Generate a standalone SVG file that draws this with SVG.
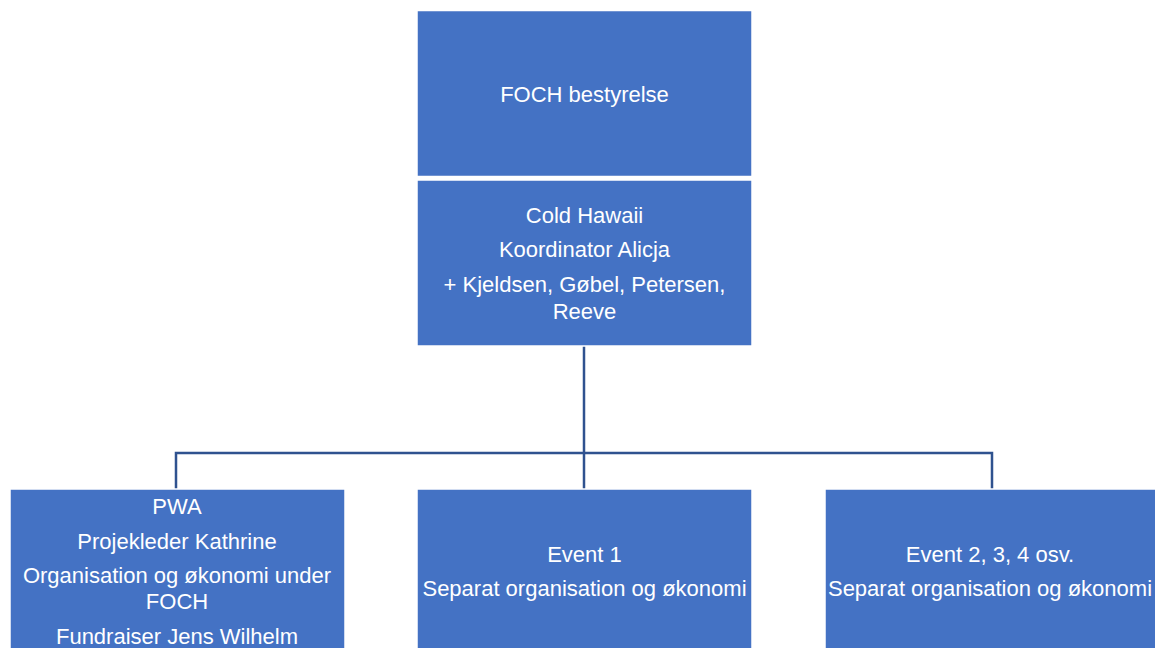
<svg xmlns="http://www.w3.org/2000/svg" width="1155" height="648" viewBox="0 0 1155 648">
<style>
.box{fill:#4472C4;stroke:#FFFFFF;stroke-width:1.5}
.t{font-family:"Liberation Sans",Arial,sans-serif;font-size:22px;fill:#FFFFFF;text-anchor:middle}
.c{fill:none;stroke:#2F528F;stroke-width:2.5}
</style>
<rect x="0" y="0" width="1155" height="648" fill="#FFFFFF"/>
<g id="connectors">
<path class="c" d="M584,346 V453"/>
<path class="c" d="M176,489 V453 H992 V489"/>
<path class="c" d="M584,453 V489"/>
</g>
<g id="node-foch">
<rect class="box" x="417" y="10.5" width="335" height="166"/>
<text class="t" x="584.5" y="102">FOCH bestyrelse</text>
</g>
<g id="node-coldhawaii">
<rect class="box" x="417" y="180" width="335" height="166"/>
<text class="t" x="584.5" y="223">Cold Hawaii</text>
<text class="t" x="584.5" y="257">Koordinator Alicja</text>
<text class="t" x="584.5" y="292">+ Kjeldsen, Gøbel, Petersen,</text>
<text class="t" x="584.5" y="319">Reeve</text>
</g>
<g id="node-pwa">
<rect class="box" x="10" y="489" width="335" height="170"/>
<text class="t" x="177" y="514">PWA</text>
<text class="t" x="177" y="549">Projekleder Kathrine</text>
<text class="t" x="177" y="583">Organisation og økonomi under</text>
<text class="t" x="177" y="609">FOCH</text>
<text class="t" x="177" y="644">Fundraiser Jens Wilhelm</text>
</g>
<g id="node-event1">
<rect class="box" x="417" y="489" width="335" height="170"/>
<text class="t" x="584.5" y="562">Event 1</text>
<text class="t" x="584.5" y="596">Separat organisation og økonomi</text>
</g>
<g id="node-event2">
<rect class="box" x="825" y="489" width="335" height="170"/>
<text class="t" x="990" y="562">Event 2, 3, 4 osv.</text>
<text class="t" x="990" y="596">Separat organisation og økonomi</text>
</g>
</svg>
